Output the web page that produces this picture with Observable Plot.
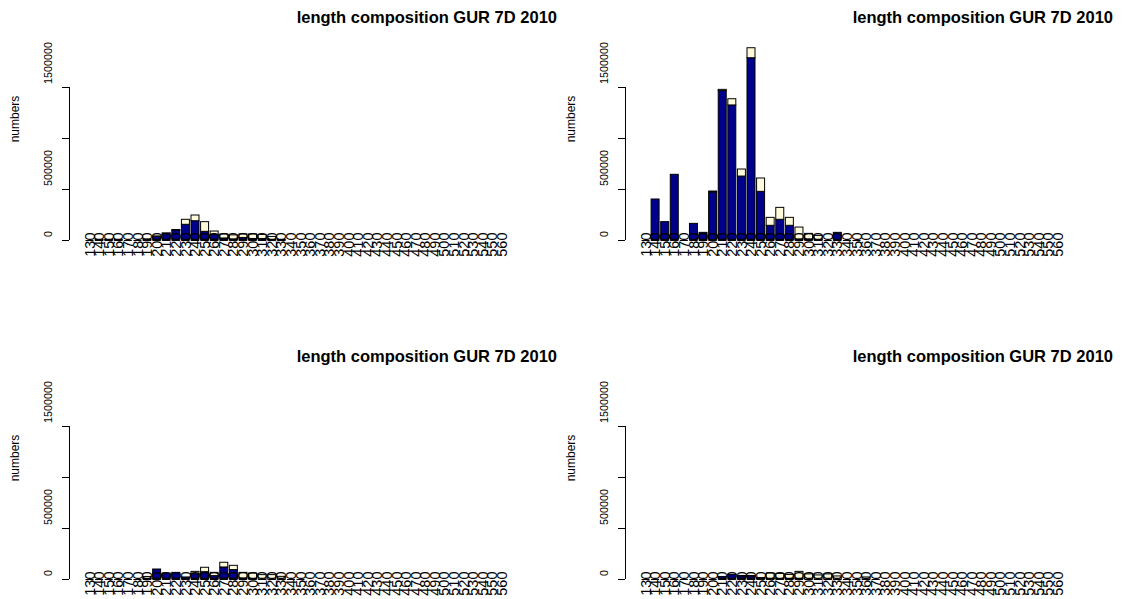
<!DOCTYPE html>
<html>
<head>
<meta charset="utf-8">
<script src="https://cdn.jsdelivr.net/npm/d3@7"></script>
<script src="https://cdn.jsdelivr.net/npm/@observablehq/plot@0.6"></script>
<style>
  html, body { margin: 0; padding: 0; background: #fff; }
  body {
    width: 1128px; height: 599px; overflow: hidden; position: relative;
    font-family: "Liberation Sans", Arial, Helvetica, sans-serif; color: #000;
  }
  .panel { position: absolute; width: 556px; height: 339px; }
  .title {
    position: absolute; left: 0; width: 557px; top: 9px;
    text-align: right; font-weight: bold; font-size: 16.5px; line-height: 16.5px;
    white-space: nowrap;
  }
  .ylab {
    position: absolute; width: 120px; left: -45px; top: 111px;
    text-align: center; font-size: 12px; line-height: 16px;
    transform: rotate(-90deg);
  }
  .chart { position: absolute; left: 0; top: 30px; }
</style>
</head>
<body>
<script>
// Length classes (cm) along the x axis
const lengthClasses = ["130","140","150","160","170","180","190","200","210","220",
  "230","240","250","260","270","280","290","300","310","320",
  "330","340","350","360","370","380","390","400","410","420",
  "430","440","450","460","470","480","490","500","510","520",
  "530","540","550","560"];

// y axis ticks and their printed labels (the 1000000 label is dropped)
const yTicks = [0, 500000, 1000000, 1500000];
const yTickLabels = ["0", "500000", "", "1500000"];

const titleText = "length composition GUR 7D 2010";
const yTitle = "numbers";

// Two stacked components per length class: lower (dark blue) and upper (pale yellow)
const stackParts = ["lower", "upper"];
const stackColors = ["#00008b", "#fffadc"];

// Numbers at length, one pair of arrays per panel; classes past the array end have no data
const topLeftLower  = [0, 5000, 5000, 5000, 0, 0, 10000, 35000, 65000, 98000, 154000, 189000, 85000, 55000, 20000, 10000, 25000, 15000, 15000, 5000, 0];
const topLeftUpper  = [0, 0, 0, 0, 0, 0, 0, 5000, 5000, 5000, 49000, 56000, 95000, 33000, 40000, 40000, 35000, 45000, 40000, 30000, 5000];

const topRightLower = [0, 402000, 180000, 644000, 0, 163000, 75000, 470000, 1465000, 1324000, 627000, 1787000, 477000, 144000, 203000, 144000, 10000, 10000, 5000, 0, 75000, 0, 0];
const topRightUpper = [0, 0, 0, 0, 0, 0, 0, 10000, 12000, 61000, 69000, 98000, 131000, 78000, 117000, 78000, 117000, 55000, 40000, 0, 0, 0, 0];

const bottomLeftLower = [0, 0, 0, 0, 0, 0, 5000, 98000, 59000, 65000, 20000, 52000, 72000, 33000, 118000, 92000, 10000, 5000, 0, 0, 0, 0, 0];
const bottomLeftUpper = [0, 0, 0, 0, 0, 0, 20000, 0, 0, 0, 0, 23000, 43000, 32000, 46000, 42000, 55000, 54000, 43000, 43000, 26000, 0, 0];

const bottomRightLower = [0, 0, 0, 0, 0, 0, 0, 0, 25000, 45000, 30000, 30000, 5000, 5000, 5000, 5000, 5000, 0, 0, 0, 0, 0, 0, 0, 0];
const bottomRightUpper = [0, 0, 0, 0, 0, 0, 0, 0, 0, 0, 5000, 5000, 10000, 55000, 50000, 40000, 70000, 50000, 40000, 50000, 30000, 0, 0, 20000, 0];

const panels = [
  {lower: topLeftLower,     upper: topLeftUpper,     left: 0,   top: 0},
  {lower: topRightLower,    upper: topRightUpper,    left: 556, top: 0},
  {lower: bottomLeftLower,  upper: bottomLeftUpper,  left: 0,   top: 339},
  {lower: bottomRightLower, upper: bottomRightUpper, left: 556, top: 339}
];

function barChart(lower, upper) {
  const present = lower.map((_, i) => lengthClasses[i]);
  const rows = [];
  lower.forEach((v, i) => {
    rows.push({len: lengthClasses[i], part: "lower", value: v});
    rows.push({len: lengthClasses[i], part: "upper", value: upper[i]});
  });
  const bars = rows.filter(d => d.value > 0);

  return Plot.plot({
    width: 556,
    height: 230,
    marginTop: 6,
    marginBottom: 20,
    marginLeft: 85.5,
    marginRight: 50.1,
    style: {fontFamily: "Liberation Sans, Arial, Helvetica, sans-serif", background: "transparent", overflow: "visible"},
    x: {type: "band", domain: lengthClasses, paddingInner: 1 / 6, paddingOuter: 0, round: false, axis: null},
    y: {domain: [0, 2000000], axis: null},
    color: {domain: stackParts, range: stackColors},
    marks: [
      // zero-height bars still show their outline
      Plot.tickY(present, {x: d => d, y: () => 0, stroke: "black", strokeWidth: 1}),
      Plot.barY(bars, {x: "len", y: "value", fill: "part", stroke: "black", strokeWidth: 1}),
      // y axis line, set off to the left of the first bar
      Plot.ruleX([lengthClasses[0]], {y1: 0, y2: 1500000, dx: -20.5, stroke: "black"}),
      Plot.axisY(yTicks, {tickSize: 7, tickFormat: () => "", label: null, dx: -16.5, stroke: "black"}),
      Plot.text(yTicks, {
        y: d => d, text: (d, i) => yTickLabels[i], frameAnchor: "left",
        rotate: -90, textAnchor: "start", dx: -37.5, dy: -3.5, fontSize: 10.8, fill: "black"
      }),
      // rotated length-class labels, overlapping the bar bases
      Plot.text(lengthClasses, {
        x: d => d, y: () => 0, text: d => d, rotate: -90, textAnchor: "end",
        dy: -8, fontSize: 14.5, fill: "black"
      })
    ]
  });
}

for (const p of panels) {
  const div = document.createElement("div");
  div.className = "panel";
  div.style.left = p.left + "px";
  div.style.top = p.top + "px";

  const title = document.createElement("div");
  title.className = "title";
  title.textContent = titleText;
  div.appendChild(title);

  const ylab = document.createElement("div");
  ylab.className = "ylab";
  ylab.textContent = yTitle;
  div.appendChild(ylab);

  const chart = document.createElement("div");
  chart.className = "chart";
  chart.appendChild(barChart(p.lower, p.upper));
  div.appendChild(chart);

  document.body.appendChild(div);
}
</script>
</body>
</html>
